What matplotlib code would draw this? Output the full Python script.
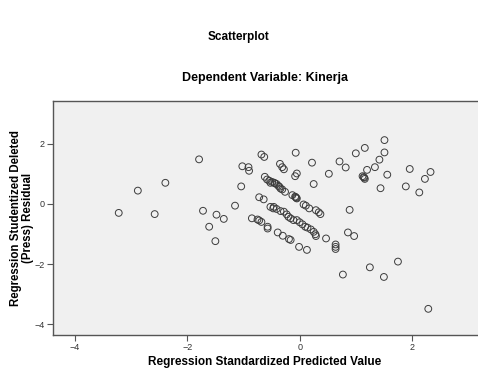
import numpy as np
import matplotlib.pyplot as plt

plt.rcParams['font.family'] = ['Liberation Sans', 'DejaVu Sans']

# standardized predicted value (x) vs studentized deleted residual (y)
pred = [-3.22, -2.88, -2.58, -2.39, -1.79, -1.72, -1.61, -1.50, -1.48, -1.35,
        -1.15, -1.04, -1.02, -0.91, -0.90, -0.85, -0.75, -0.72, -0.68, -0.57,
        -0.57, -0.39, -0.30, -0.19, -0.16, -0.01, 0.13, -0.72, -0.64, -0.68,
        -0.63, -0.07, 0.22, 0.71, -0.35, -0.31, -0.28, -0.05, -0.08, 0.52,
        0.25,
        # upper band
        -0.62, -0.58, -0.54, -0.52, -0.49, -0.45, -0.41, -0.38, -0.34, -0.31,
        -0.26, -0.13, -0.08, -0.05, -0.07, -0.06, 0.07, 0.11, 0.17, 0.29,
        0.34, 0.37, -0.44, -0.36,
        # middle band
        -0.52, -0.47, -0.46, -0.41, -0.34, -0.28, -0.23, -0.20, -0.16, -0.11,
        -0.05, 0.00, 0.05, 0.10, 0.14, 0.20, 0.25, 0.28, 0.29,
        # right side
        0.47, 0.64, 0.64, 0.64, 0.86, 0.97, 0.89, 0.77, 1.25, 1.50,
        1.75, 2.29, 0.82, 1.00, 1.16, 1.51, 1.51, 1.42, 1.34, 1.20,
        1.96, 2.33, 2.23, 1.12, 1.15, 1.16, 1.14, 1.56, 1.44, 1.89, 2.13]
resid = [-0.30, 0.44, -0.34, 0.70, 1.48, -0.23, -0.76, -1.24, -0.36, -0.50,
         -0.06, 0.58, 1.25, 1.22, 1.10, -0.48, -0.52, -0.55, -0.60, -0.76,
         -0.82, -0.95, -1.06, -1.17, -1.20, -1.43, -1.53, 0.22, 0.15, 1.64,
         1.56, 1.70, 1.37, 1.41, 1.33, 1.22, 1.15, 1.01, 0.92, 1.00,
         0.66,
         0.90, 0.81, 0.77, 0.70, 0.73, 0.70, 0.66, 0.60, 0.51, 0.48,
         0.40, 0.29, 0.24, 0.18, 0.22, 0.20, -0.02, -0.06, -0.15, -0.21,
         -0.28, -0.34, 0.68, 0.57,
         -0.10, -0.15, -0.10, -0.17, -0.24, -0.26, -0.35, -0.43, -0.48, -0.54,
         -0.54, -0.61, -0.68, -0.76, -0.79, -0.85, -0.93, -1.01, -1.07,
         -1.15, -1.35, -1.43, -1.50, -0.95, -1.07, -0.20, -2.35, -2.11, -2.43,
         -1.92, -3.49, 1.21, 1.68, 1.86, 2.12, 1.71, 1.47, 1.22, 1.13,
         1.16, 1.06, 0.83, 0.92, 0.87, 0.83, 0.89, 0.97, 0.52, 0.58, 0.38]

xticks = [-4, -2, 0, 2]
yticks = [-4, -2, 0, 2]

fig = plt.figure(figsize=(4.78, 3.72), dpi=100)
ax = fig.add_axes([53/478, 37/372, 1.01 - 53/478, 234/372])
ax.set_facecolor('#f0f0f0')

ax.scatter(pred, resid, s=24, facecolors='none', edgecolors='#3c3c3c', linewidths=0.7)

ax.set_xlim(-4.39, 3.26)
ax.set_ylim(-4.36, 3.42)
ax.set_xticks(xticks)
ax.set_yticks(yticks)
ax.tick_params(labelsize=6.5, length=4, width=0.8, colors='#555555', labelcolor='#333333', pad=2)
for s in ax.spines.values():
    s.set_color('#555555')
    s.set_linewidth(1.0)

fig.text(0.5, 1 - 37/372, 'Scatterplot', ha='center', va='center', fontsize=8.5, fontweight='bold')
fig.text(265/478, 1 - 78/372, 'Dependent Variable: Kinerja', ha='center', va='center',
         fontsize=9, fontweight='bold')
fig.text(265/478, 1 - 362/372, 'Regression Standardized Predicted Value', ha='center', va='center',
         fontsize=8.5, fontweight='bold')
fig.text(22/478, 1 - 218/372, 'Regression Studentized Deleted\n(Press) Residual', ha='center',
         va='center', rotation=90, fontsize=8.3, fontweight='bold', linespacing=1.0)

fig.savefig('out.png', dpi=100)
